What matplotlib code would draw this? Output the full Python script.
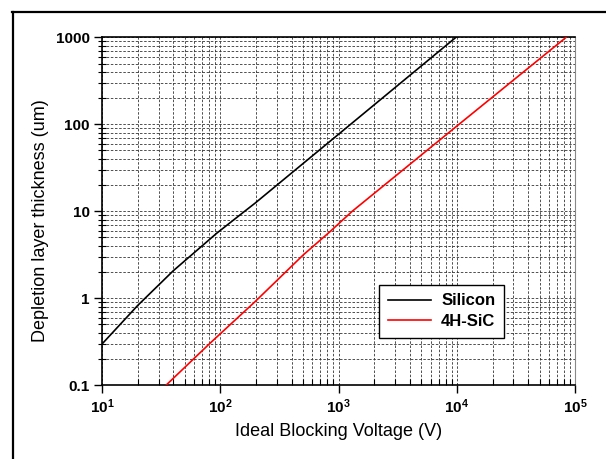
import matplotlib
matplotlib.use("Agg")
import matplotlib.pyplot as plt
from matplotlib.lines import Line2D
from matplotlib.ticker import LogLocator, FixedLocator, FixedFormatter, NullFormatter

plt.rcParams['font.family'] = ['Liberation Sans', 'DejaVu Sans']
plt.rcParams['mathtext.fontset'] = 'custom'
plt.rcParams['mathtext.rm'] = 'Liberation Sans'
plt.rcParams['mathtext.bf'] = 'Liberation Sans:bold'

# blocking voltage (V) vs. depletion layer thickness (um)
si_voltage = [10, 20, 40, 93, 160, 196, 1260, 9800]
si_thickness = [0.30, 0.83, 2.08, 5.6, 10, 12.4, 100, 1000]

sic_voltage = [34.6, 81.5, 196, 501, 843, 1300, 10400, 83800]
sic_thickness = [0.1, 0.304, 0.914, 3.15, 5.83, 10, 100, 1000]

x_ticks = [1e1, 1e2, 1e3, 1e4, 1e5]
x_labels = [r'$\mathbf{10^{1}}$', r'$\mathbf{10^{2}}$', r'$\mathbf{10^{3}}$',
            r'$\mathbf{10^{4}}$', r'$\mathbf{10^{5}}$']
y_ticks = [0.1, 1, 10, 100, 1000]
y_labels = ['0.1', '1', '10', '100', '1000']

fig = plt.figure(figsize=(6.06, 4.59), dpi=100)
ax = fig.add_axes([0.1687, 0.1606, 0.7805, 0.7581])

ax.plot(si_voltage, si_thickness, color='black', lw=1.2, label='Silicon', zorder=3)
ax.plot(sic_voltage, sic_thickness, color='red', lw=1.2, label='4H-SiC', zorder=3)

ax.set_xscale('log')
ax.set_yscale('log')
ax.set_xlim(10, 1e5)
ax.set_ylim(0.1, 1000)

ax.xaxis.set_major_locator(FixedLocator(x_ticks))
ax.xaxis.set_major_formatter(FixedFormatter(x_labels))
ax.yaxis.set_major_locator(FixedLocator(y_ticks))
ax.yaxis.set_major_formatter(FixedFormatter(y_labels))
ax.xaxis.set_minor_locator(LogLocator(base=10, subs=range(2, 10), numticks=20))
ax.yaxis.set_minor_locator(LogLocator(base=10, subs=range(2, 10), numticks=20))
ax.xaxis.set_minor_formatter(NullFormatter())
ax.yaxis.set_minor_formatter(NullFormatter())

for lab in ax.get_yticklabels():
    lab.set_fontweight('bold')
ax.tick_params(axis='both', which='major', direction='out', length=6, width=1,
               labelsize=11, pad=3)
ax.tick_params(axis='x', which='minor', direction='in', length=4, width=0.8)
ax.tick_params(axis='y', which='minor', direction='inout', length=6, width=0.8)

# dashed grid on every decade and sub-decade
ax.grid(True, which='both', linestyle=(0, (3, 2)), color='#333333', lw=0.6, zorder=0)

ax.spines['left'].set_linewidth(1.2)
ax.spines['bottom'].set_linewidth(1.2)
ax.spines['top'].set_linewidth(1.2)
ax.spines['right'].set_color('#888888')

ax.set_xlabel('Ideal Blocking Voltage (V)', fontsize=13, labelpad=5)
ax.set_ylabel('Depletion layer thickness (um)', fontsize=13)
ax.yaxis.set_label_coords(-0.113, 0.472)

leg = ax.legend(loc='lower left', bbox_to_anchor=(0.586, 0.137), borderaxespad=0,
                fancybox=False, shadow=False, framealpha=1, edgecolor='black',
                handlelength=2.6, handletextpad=0.6, labelspacing=0.35,
                borderpad=0.5, prop={'size': 12, 'weight': 'bold'})
leg.get_frame().set_linewidth(1.0)
leg.set_zorder(5)

# frame around the figure (left and top edges)
fig.add_artist(Line2D([12.7 / 606, 12.7 / 606], [0, 1 - 12.3 / 459],
                      transform=fig.transFigure, color='black', lw=1.6))
fig.add_artist(Line2D([12 / 606, 1], [1 - 12.3 / 459, 1 - 12.3 / 459],
                      transform=fig.transFigure, color='black', lw=1.6))

fig.savefig('out.png', dpi=100)
